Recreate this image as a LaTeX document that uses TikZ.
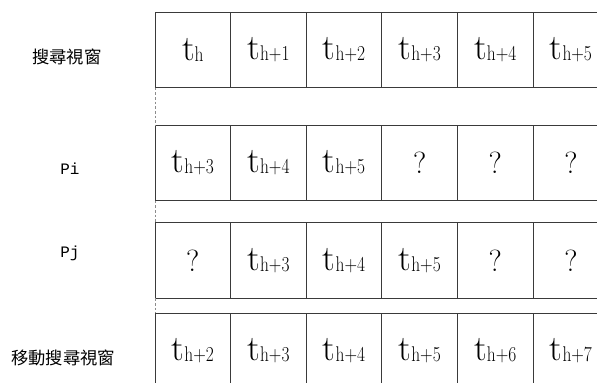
\documentclass[tikz,border=0pt]{standalone}
\usepackage{fontspec}
\newfontfamily\cjk{Noto Sans CJK TC}
\newfontfamily\monofnt{Liberation Mono}
\usepackage{xcolor}
\definecolor{GRline}{HTML}{3A3A3A}
\definecolor{GRdash}{HTML}{8C8C8C}
\usepackage{graphicx}
\usepackage{tikz}
\usetikzlibrary{positioning}

% t with a lowered index, as in the cells
\newcommand{\tidx}[1]{{\fontsize{27}{27}\selectfont t}\raisebox{-1pt}{\scalebox{0.82}[1]{\fontsize{16}{16}\selectfont #1}}}
\newcommand{\qmark}{{\fontsize{23}{23}\selectfont ?}}

\begin{document}
\begin{tikzpicture}[
  cell/.style={draw=GRline,line width=0.6pt,minimum width=2cm,minimum height=2cm,
    inner sep=0pt,outer sep=0pt,anchor=center},
  rowlabel/.style={font=\cjk\fontsize{13}{13}\selectfont,inner sep=1pt},
  plabel/.style={font=\monofnt\fontsize{12}{12}\selectfont,inner sep=1pt},
  gap/.style={draw=GRdash,line width=0.5pt,dash pattern=on 2pt off 1.5pt}]
\useasboundingbox (0,0) rectangle (15.79,-10.11);
\clip (0,0) rectangle (15.79,-10.11);
% search window
\node[cell] (w1) at (5.10,-1.32) {\tidx{h}};
\node[cell] (w2) at (7.10,-1.32) {\tidx{h+1}};
\node[cell] (w3) at (9.10,-1.32) {\tidx{h+2}};
\node[cell] (w4) at (11.10,-1.32) {\tidx{h+3}};
\node[cell] (w5) at (13.10,-1.32) {\tidx{h+4}};
\node[cell] (w6) at (15.10,-1.32) {\tidx{h+5}};
% Pi
\node[cell] (pi1) at (5.10,-4.31) {\tidx{h+3}};
\node[cell] (pi2) at (7.10,-4.31) {\tidx{h+4}};
\node[cell] (pi3) at (9.10,-4.31) {\tidx{h+5}};
\node[cell] (pi4) at (11.10,-4.31) {\qmark};
\node[cell] (pi5) at (13.10,-4.31) {\qmark};
\node[cell] (pi6) at (15.10,-4.31) {\qmark};
% Pj
\node[cell] (pj1) at (5.10,-6.89) {\qmark};
\node[cell] (pj2) at (7.10,-6.89) {\tidx{h+3}};
\node[cell] (pj3) at (9.10,-6.89) {\tidx{h+4}};
\node[cell] (pj4) at (11.10,-6.89) {\tidx{h+5}};
\node[cell] (pj5) at (13.10,-6.89) {\qmark};
\node[cell] (pj6) at (15.10,-6.89) {\qmark};
% moved search window
\node[cell] (m1) at (5.10,-9.28) {\tidx{h+2}};
\node[cell] (m2) at (7.10,-9.28) {\tidx{h+3}};
\node[cell] (m3) at (9.10,-9.28) {\tidx{h+4}};
\node[cell] (m4) at (11.10,-9.28) {\tidx{h+5}};
\node[cell] (m5) at (13.10,-9.28) {\tidx{h+6}};
\node[cell] (m6) at (15.10,-9.28) {\tidx{h+7}};
% labels
\node[rowlabel] (lwin) at (1.77,-1.51) {搜尋視窗};
\node[plabel] (lpi) at (1.85,-4.45) {Pi};
\node[plabel] (lpj) at (1.85,-6.69) {Pj};
\node[rowlabel] (lmove) at (1.67,-9.47) {移動搜尋視窗};
% dashed joins on the left
\draw[gap] (w1.south west) -- (pi1.north west);
\draw[gap] (pi1.south west) -- (pj1.north west);
\draw[gap] (pj1.south west) -- (m1.north west);
\end{tikzpicture}
\end{document}
